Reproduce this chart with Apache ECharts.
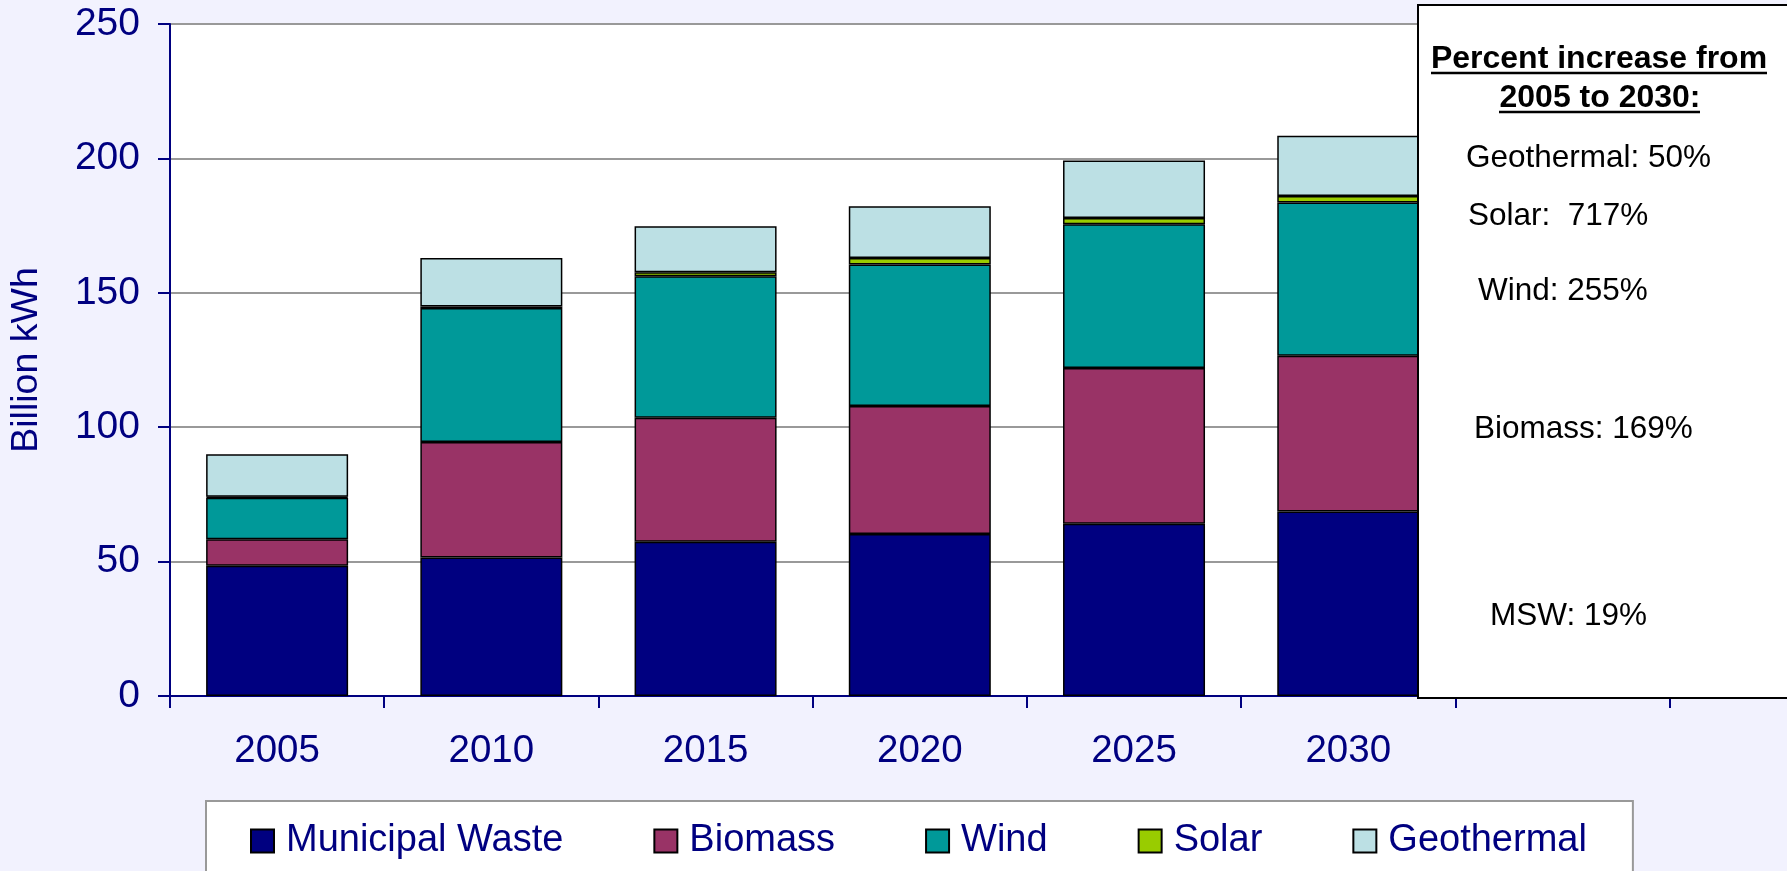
<!DOCTYPE html>
<html>
<head>
<meta charset="utf-8">
<script src="https://cdn.jsdelivr.net/npm/echarts@6/dist/echarts.min.js"></script>
<style>
html,body{margin:0;padding:0;background:#F2F2FE;}
#chart{width:1787px;height:871px;}
</style>
</head>
<body>
<div id="chart"></div>
<script>
// ---- data ----
const years = ['2005', '2010', '2015', '2020', '2025', '2030', ''];
const municipalWaste = [48.5, 51.5, 57.4, 60.3, 64.1, 68.6];
const biomass = [9.8, 43.0, 46.1, 47.6, 57.9, 58.0];
const wind = [15.5, 49.8, 52.7, 52.6, 53.5, 57.0];
const solar = [0.3, 0.6, 1.4, 2.4, 2.3, 2.4];
const geothermal = [15.8, 18.0, 17.2, 19.3, 21.4, 22.4];
const seriesNames = ['Municipal Waste', 'Biomass', 'Wind', 'Solar', 'Geothermal'];
const yTicks = [0, 50, 100, 150, 200, 250];
const boxTitle = ['Percent increase from', '2005 to 2030:'];
const boxLines = ['Geothermal: 50%', 'Solar:  717%', 'Wind: 255%', 'Biomass: 169%', 'MSW: 19%'];

const FONT = "'Liberation Sans', Arial, sans-serif";
const NAVY = '#000080';
const colors = ['#000080', '#993366', '#009999', '#99CC00', '#BCE0E4'];
const seriesData = [municipalWaste, biomass, wind, solar, geothermal];

const chart = echarts.init(document.getElementById('chart'), null, {renderer: 'canvas'});

const series = seriesNames.map((name, i) => ({
  name: name,
  type: 'bar',
  stack: 'total',
  barWidth: 142,
  data: seriesData[i],
  itemStyle: {color: colors[i], borderColor: '#000', borderWidth: 1.5},
  emphasis: {disabled: true},
  animation: false
}));

const boxLineX = [1466, 1468, 1478, 1474, 1490];
const boxLineY = [158, 216, 291, 429, 616];

const graphics = [
  {type: 'rect', z: 100, shape: {x: 1418, y: 5, width: 420, height: 693},
   style: {fill: '#fff', stroke: '#000', lineWidth: 2}},
  {type: 'text', z: 101, x: 1599, y: 59,
   style: {text: boxTitle[0], font: 'bold 32px ' + FONT, fill: '#000', textAlign: 'center', textVerticalAlign: 'middle'}},
  {type: 'text', z: 101, x: 1600, y: 98,
   style: {text: boxTitle[1], font: 'bold 32px ' + FONT, fill: '#000', textAlign: 'center', textVerticalAlign: 'middle'}},
  {type: 'line', z: 101, shape: {x1: 1431, y1: 73, x2: 1767, y2: 73}, style: {stroke: '#000', lineWidth: 2.5}},
  {type: 'line', z: 101, shape: {x1: 1499, y1: 112, x2: 1700, y2: 112}, style: {stroke: '#000', lineWidth: 2.5}}
];
boxLines.forEach((t, i) => {
  graphics.push({type: 'text', z: 101, x: boxLineX[i], y: boxLineY[i],
    style: {text: t, font: '31.5px ' + FONT, fill: '#000', textAlign: 'left', textVerticalAlign: 'middle'}});
});

const option = {
  backgroundColor: '#F2F2FE',
  animation: false,
  grid: {left: 166, top: 24, width: 1503.6, height: 672, show: true, backgroundColor: '#fff', borderWidth: 0, containLabel: false},
  legend: {
    data: seriesNames,
    left: 206, top: 801,
    orient: 'horizontal',
    padding: [21, 46, 14, 44],
    itemGap: 90,
    itemWidth: 37, itemHeight: 23,
    icon: 'path://M0,0H10V10H0Z',
    backgroundColor: '#fff',
    borderColor: '#999',
    borderWidth: 2,
    borderRadius: 0,
    selectedMode: false,
    textStyle: {fontSize: 38, color: NAVY, fontFamily: FONT}
  },
  xAxis: {
    type: 'category',
    data: years,
    axisLine: {show: true, lineStyle: {color: NAVY, width: 2}},
    axisTick: {show: true, length: 12, lineStyle: {color: NAVY, width: 2}},
    axisLabel: {interval: 0, margin: 36, fontSize: 38.5, color: NAVY, fontFamily: FONT},
    splitLine: {show: false}
  },
  yAxis: {
    type: 'value',
    min: yTicks[0], max: yTicks[yTicks.length - 1], interval: yTicks[1] - yTicks[0],
    name: 'Billion kWh',
    nameLocation: 'middle',
    nameGap: 124,
    nameRotate: 90,
    nameTextStyle: {fontSize: 37.5, color: NAVY, fontFamily: FONT},
    axisLine: {show: true, lineStyle: {color: NAVY, width: 2}},
    axisTick: {show: true, length: 12, lineStyle: {color: NAVY, width: 2}},
    axisLabel: {margin: 30, fontSize: 39, color: NAVY, fontFamily: FONT},
    splitLine: {show: true, lineStyle: {color: '#999', width: 2}}
  },
  series: series,
  graphic: graphics
};
chart.setOption(option);
</script>
</body>
</html>
